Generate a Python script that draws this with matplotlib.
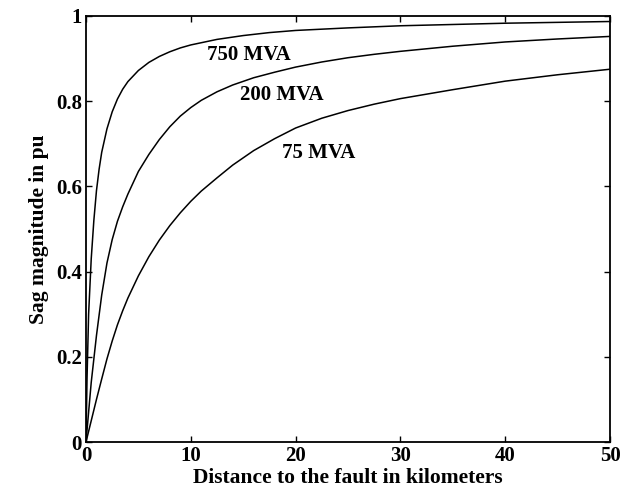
import matplotlib
matplotlib.use("Agg")
import matplotlib.pyplot as plt
from matplotlib.ticker import FixedLocator, FixedFormatter

# Distance to the fault (km) and sag magnitude (pu)
dist_750 = [0, 0.1, 0.25, 0.5, 0.75, 1, 1.25, 1.5, 2, 2.5, 3, 3.5, 4, 5, 6, 7, 8, 9, 10,
            12.5, 15, 17.5, 20, 25, 30, 35, 40, 45, 50]
sag_750 = [0, 0.15, 0.30, 0.43, 0.52, 0.59, 0.64, 0.68, 0.735, 0.775, 0.805, 0.828, 0.846,
           0.872, 0.891, 0.905, 0.916, 0.925, 0.932, 0.945, 0.954, 0.961, 0.966, 0.972,
           0.977, 0.980, 0.983, 0.985, 0.987]

dist_200 = [0, 0.5, 1, 1.5, 2, 2.5, 3, 3.5, 4, 5, 6, 7, 8, 9, 10, 11, 12.5, 14, 16, 18, 20,
            22.5, 25, 27.5, 30, 35, 40, 45, 50]
sag_200 = [0, 0.14, 0.25, 0.345, 0.42, 0.475, 0.518, 0.552, 0.582, 0.635, 0.675, 0.71, 0.74,
           0.765, 0.785, 0.802, 0.822, 0.838, 0.855, 0.868, 0.88, 0.892, 0.902, 0.91, 0.917,
           0.929, 0.939, 0.946, 0.952]

dist_75 = [0, 0.5, 1, 1.5, 2, 2.5, 3, 3.5, 4, 5, 6, 7, 8, 9, 10, 11, 12.5, 14, 16, 18, 20,
           22.5, 25, 27.5, 30, 35, 40, 45, 50]
sag_75 = [0, 0.05, 0.10, 0.148, 0.195, 0.237, 0.275, 0.308, 0.338, 0.39, 0.435, 0.474, 0.508,
          0.538, 0.565, 0.589, 0.62, 0.65, 0.684, 0.712, 0.737, 0.76, 0.778, 0.793, 0.806,
          0.827, 0.847, 0.862, 0.875]

labels = ["750 MVA", "200 MVA", "75 MVA"]
label_pos = [(11.5, 0.908), (14.7, 0.815), (18.7, 0.678)]

xticks = [0, 10, 20, 30, 40, 50]
yticks = [0, 0.2, 0.4, 0.6, 0.8, 1.0]
yticklabels = ["0", "0.2", "0.4", "0.6", "0.8", "1"]

plt.rcParams['font.family'] = ['Liberation Serif', 'DejaVu Serif']

fig = plt.figure(figsize=(6.24, 4.99), dpi=100)
ax = fig.add_axes([0.1378, 0.1142, 0.9776 - 0.1378, 0.968 - 0.1142])

for d, s in ((dist_750, sag_750), (dist_200, sag_200), (dist_75, sag_75)):
    ax.plot(d, s, color='black', linewidth=1.1)

for txt, (x, y) in zip(labels, label_pos):
    ax.text(x, y, txt, fontsize=15, va='center', ha='left', fontweight='bold')

ax.set_xlim(0, 50)
ax.set_ylim(0, 1)
ax.xaxis.set_major_locator(FixedLocator(xticks))
ax.yaxis.set_major_locator(FixedLocator(yticks))
ax.yaxis.set_major_formatter(FixedFormatter(yticklabels))
ax.tick_params(direction='in', length=4, width=1, top=True, right=True,
               labelsize=15, pad=3)
for lab in ax.get_xticklabels() + ax.get_yticklabels():
    lab.set_fontweight('bold')
for sp in ax.spines.values():
    sp.set_linewidth(1.3)

ax.set_xlabel("Distance to the fault in kilometers", fontsize=15.5, fontweight='bold', labelpad=1)
ax.set_ylabel("Sag magnitude in pu", fontsize=15.5, fontweight='bold', labelpad=5)

fig.savefig("out.png", dpi=100)
